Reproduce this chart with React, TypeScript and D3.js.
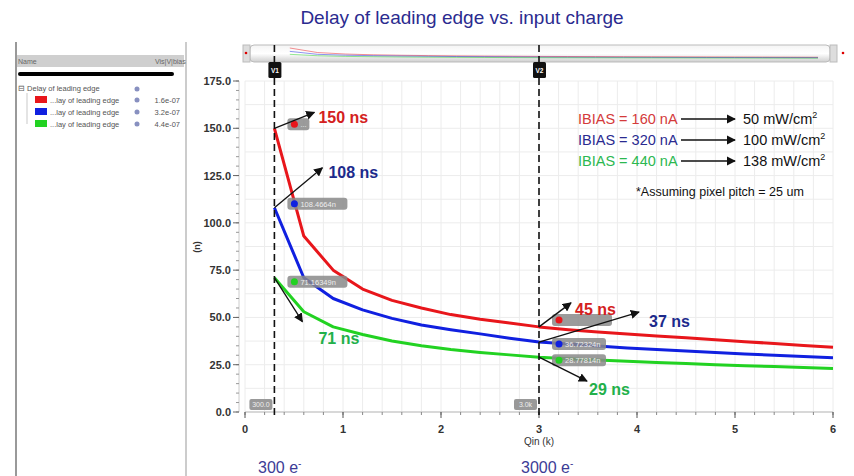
import React from 'react'
import * as d3 from 'd3'

const qin = [0.3, 0.6, 0.9, 1.2, 1.5, 1.8, 2.1, 2.4, 2.7, 3.0, 3.3, 3.6, 3.9, 4.2, 4.5, 4.8, 5.1, 5.4, 5.7, 6.0]
const red = [150, 93, 75, 65, 59, 55, 51.5, 49, 47, 45, 43.5, 42.3, 41.2, 40.2, 39.2, 38.2, 37.2, 36.2, 35.2, 34.2]
const blue = [108, 71, 60, 54, 49.5, 46, 43.5, 41.3, 39, 37, 35.9, 34.9, 33.9, 33, 32.2, 31.4, 30.7, 30, 29.3, 28.7]
const green = [71, 53, 45, 41, 37.5, 35, 33, 31.5, 30.2, 29, 28.2, 27.5, 26.8, 26.2, 25.6, 25, 24.5, 24, 23.5, 23]
const seriesColors = ['#e8161b', '#1020e0', '#22d222']
const yTicks = [0, 25, 50, 75, 100, 125, 150, 175]
const xTicks = [0, 1, 2, 3, 4, 5, 6]
const cursors = [0.3, 3.0]
const cursorNames = ['V1', 'V2']
const cursorTags = ['300.0', '3.0k']
const callouts = [
  { x: 0.3, y: 150, text: '150 ns', color: '#d42020', dx: 40, dy: -16, tx: 44, ty: -5 },
  { x: 0.3, y: 108, text: '108 ns', color: '#1c2a8c', dx: 48, dy: -40, tx: 54, ty: -30 },
  { x: 0.3, y: 71, text: '71 ns', color: '#22b04a', dx: 28, dy: 44, tx: 44, ty: 66 },
  { x: 3.0, y: 45, text: '45 ns', color: '#d42020', dx: 32, dy: -24, tx: 36, ty: -12 },
  { x: 3.0, y: 37, text: '37 ns', color: '#1c2a8c', dx: 100, dy: -30, tx: 110, ty: -15 },
  { x: 3.0, y: 29, text: '29 ns', color: '#22b04a', dx: 48, dy: 24, tx: 50, ty: 38 },
]
const tags = [
  { x: 0.3, y: 150, text: '...', color: '#e8161b', ox: 21, oy: -4, w: 22 },
  { x: 0.3, y: 108, text: '108.4664n', color: '#1020e0', ox: 21, oy: -4, w: 60 },
  { x: 0.3, y: 71, text: '71.16349n', color: '#22d222', ox: 21, oy: 4, w: 60 },
  { x: 3.0, y: 45, text: '', color: '#e8161b', ox: 21, oy: -7, w: 60 },
  { x: 3.0, y: 37, text: '36.72324n', color: '#1020e0', ox: 21, oy: 2, w: 54 },
  { x: 3.0, y: 29, text: '28.77814n', color: '#22d222', ox: 21, oy: 3, w: 54 },
]
const legendLeft = ['IBIAS = 160 nA', 'IBIAS = 320 nA', 'IBIAS = 440 nA']
const legendRight = ['50 mW/cm', '100 mW/cm', '138 mW/cm']
const legendColors = ['#d43a3a', '#2a2a90', '#2cb850']
const treeValues = ['1.6e-07', '3.2e-07', '4.4e-07']

const W = 854
const H = 476
const x = d3.scaleLinear().domain([0, 6]).range([245, 833])
const y = d3.scaleLinear().domain([0, 175]).range([412, 81])
const font = 'Liberation Sans, Arial, sans-serif'

export default function App() {
  const line = d3.line<number>().x((_, i) => x(qin[i])).y(d => y(d))
  const all = [red, blue, green]
  const xMinor = d3.range(0, 6.01, 0.2)
  const yMinor = d3.range(0, 175.1, 5)
  const overX = d3.scaleLinear().domain([0, 6]).range([262, 818])
  const overY = d3.scaleLinear().domain([0, 175]).range([60, 46])
  const overLine = d3.line<number>().x((_, i) => overX(qin[i])).y(d => overY(d))

  return (
    <div style={{ position: 'absolute', left: 0, top: 0 }}>
      <svg width={W} height={H} style={{ display: 'block', fontFamily: font }}>
        <defs>
          <marker id="ah" viewBox="0 0 10 10" refX="9" refY="5" markerWidth="7" markerHeight="7" orient="auto">
            <path d="M0,0 L10,5 L0,10 z" fill="#111" />
          </marker>
          <linearGradient id="ov" x1="0" y1="0" x2="0" y2="1">
            <stop offset="0" stopColor="#f4f4f4" />
            <stop offset="0.5" stopColor="#ffffff" />
            <stop offset="1" stopColor="#cfcfcf" />
          </linearGradient>
        </defs>
        <rect width={W} height={H} fill="#fff" />
        <text x={462} y={24} textAnchor="middle" fontSize={19} fill="#2b2b8f">Delay of leading edge vs. input charge</text>

        {/* left panel */}
        <line x1={16} x2={16} y1={42} y2={476} stroke="#777" strokeWidth={1.5} />
        <line x1={186} x2={186} y1={42} y2={476} stroke="#bbb" strokeWidth={1.5} />
        <rect x={17} y={55} width={167} height={12} fill="#cfcfcf" />
        <text x={18} y={64} fontSize={7} fill="#666">Name</text>
        <text x={155} y={64} fontSize={7} fill="#666">Vis|V|bias</text>
        <line x1={20} x2={172} y1={74} y2={74} stroke="#000" strokeWidth={4} strokeLinecap="round" />
        <text x={18} y={91} fontSize={7.5} fill="#555">⊟ Delay of leading edge</text>
        <circle cx={137} cy={89} r={2.5} fill="#8890c0" />
        {treeValues.map((v, i) => (
          <g key={v}>
            <rect x={35} y={96 + i * 12} width={12} height={7} fill={seriesColors[i]} />
            <text x={50} y={103 + i * 12} fontSize={7.5} fill="#555">...lay of leading edge</text>
            <circle cx={137} cy={100 + i * 12} r={2.5} fill="#8890c0" />
            <text x={180} y={103 + i * 12} fontSize={7.5} fill="#555" textAnchor="end">{v}</text>
          </g>
        ))}
        <line x1={27} x2={27} y1={93} y2={124} stroke="#bbb" strokeWidth={0.8} />

        {/* overview bar */}
        <rect x={250} y={45} width={580} height={17} rx={4} fill="url(#ov)" stroke="#bbb" />
        <rect x={243} y={45} width={7} height={17} fill="#ddd" stroke="#bbb" />
        <rect x={830} y={45} width={7} height={17} fill="#ddd" stroke="#bbb" />
        <circle cx={246} cy={53} r={1.3} fill="#d00" />
        <circle cx={843} cy={53} r={1.3} fill="#d00" />
        {all.map((s, i) => (
          <path key={i} d={overLine(s) || ''} fill="none" stroke={seriesColors[i]} strokeWidth={0.8} opacity={0.6} />
        ))}

        {/* grid */}
        {xMinor.map(v => (
          <line key={'gx' + v} x1={x(v)} x2={x(v)} y1={y(175)} y2={y(0)} stroke="#ececec" />
        ))}
        {d3.range(0, 175.1, 12.5).map(v => (
          <line key={'gy' + v} x1={x(0)} x2={x(6)} y1={y(v)} y2={y(v)} stroke="#ececec" />
        ))}

        {/* axes */}
        <line x1={x(0)} x2={x(6)} y1={y(0)} y2={y(0)} stroke="#bbb" />
        <line x1={x(0) - 6} x2={x(0) - 6} y1={y(0)} y2={y(175)} stroke="#ccc" />
        {yMinor.map(v => (
          <line key={'ym' + v} x1={x(0) - 9} x2={x(0) - 6} y1={y(v)} y2={y(v)} stroke="#999" />
        ))}
        {yTicks.map(v => (
          <g key={'yt' + v}>
            <line x1={x(0) - 12} x2={x(0) - 6} y1={y(v)} y2={y(v)} stroke="#666" />
            <text x={x(0) - 14} y={y(v) + 4} fontSize={11} fontWeight="bold" fill="#333" textAnchor="end">{v.toFixed(1)}</text>
          </g>
        ))}
        {xMinor.map(v => (
          <line key={'xm' + v} x1={x(v)} x2={x(v)} y1={y(0)} y2={y(0) + 3} stroke="#888" />
        ))}
        {xTicks.map(v => (
          <g key={'xt' + v}>
            <line x1={x(v)} x2={x(v)} y1={y(0)} y2={y(0) + 6} stroke="#555" />
            <text x={x(v)} y={y(0) + 21} fontSize={11} fontWeight="bold" fill="#333" textAnchor="middle">{v}</text>
          </g>
        ))}
        <text x={x(3)} y={y(0) + 33} fontSize={10} fill="#333" textAnchor="middle">Qin (k)</text>
        <text transform={`translate(${200},${247}) rotate(-90)`} fontSize={9} fontWeight="bold" fill="#333" textAnchor="middle">(n)</text>

        {/* series */}
        {all.map((s, i) => (
          <path key={'s' + i} d={line(s) || ''} fill="none" stroke={seriesColors[i]} strokeWidth={3} strokeLinejoin="round" />
        ))}

        {/* cursors */}
        {cursors.map((c, i) => (
          <g key={'c' + i}>
            <line x1={x(c)} x2={x(c)} y1={45} y2={y(0) + 4} stroke="#111" strokeWidth={1.6} strokeDasharray="7,4" />
            <rect x={x(c) - 6} y={62} width={13} height={16} rx={1.5} fill="#111" />
            <text x={x(c) + 0.5} y={73} fontSize={6.5} fill="#fff" textAnchor="middle" fontWeight="bold">{cursorNames[i]}</text>
            <rect x={x(c) - 25} y={y(0) - 13} width={23} height={11} rx={2} fill="#999" />
            <text x={x(c) - 13.5} y={y(0) - 5} fontSize={7} fill="#eee" textAnchor="middle">{cursorTags[i]}</text>
          </g>
        ))}

        {/* tags */}
        {tags.map((t, i) => (
          <g key={'tg' + i}>
            <rect x={x(t.x) + t.ox - 8} y={y(t.y) + t.oy - 6} width={t.w} height={12} rx={3} fill="#8a8a8a" opacity={0.85} />
            <circle cx={x(t.x) + t.ox - 1} cy={y(t.y) + t.oy} r={3.5} fill={t.color} />
            <text x={x(t.x) + t.ox + 5} y={y(t.y) + t.oy + 3} fontSize={7.5} fill="#eee">{t.text}</text>
          </g>
        ))}

        {/* callouts */}
        {callouts.map((c, i) => (
          <g key={'co' + i}>
            <line x1={x(c.x)} y1={y(c.y)} x2={x(c.x) + c.dx} y2={y(c.y) + c.dy} stroke="#111" strokeWidth={1.3} markerEnd="url(#ah)" />
            <text x={x(c.x) + c.tx} y={y(c.y) + c.ty} fontSize={16} fontWeight="bold" fill={c.color}>{c.text}</text>
          </g>
        ))}

        {/* legend text */}
        {legendLeft.map((t, i) => (
          <g key={'lg' + i}>
            <text x={578} y={124 + i * 21} fontSize={14.5} fill={legendColors[i]}>{t}</text>
            <line x1={681} x2={735} y1={119 + i * 21} y2={119 + i * 21} stroke="#111" strokeWidth={1.3} markerEnd="url(#ah)" />
            <text x={743} y={124 + i * 21} fontSize={14.5} fill="#111">{legendRight[i]}<tspan dy={-6} fontSize={9}>2</tspan></text>
          </g>
        ))}
        <text x={636} y={196} fontSize={12.5} fill="#111">*Assuming pixel pitch = 25 um</text>

        <text x={258} y={473} fontSize={16} fill="#3c3c96">300 e<tspan dy={-6} fontSize={10}>-</tspan></text>
        <text x={521} y={473} fontSize={16} fill="#3c3c96">3000 e<tspan dy={-6} fontSize={10}>-</tspan></text>
      </svg>
    </div>
  )
}
